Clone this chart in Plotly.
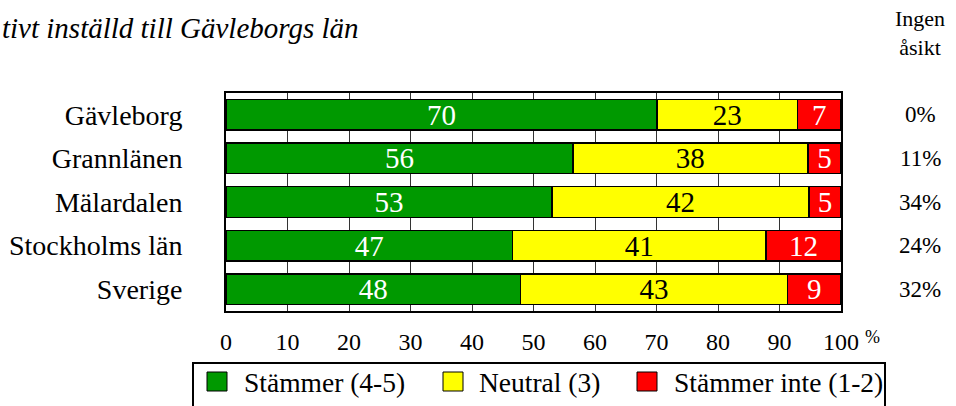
import plotly.graph_objects as go

categories = ["Gävleborg", "Grannlänen", "Mälardalen", "Stockholms län", "Sverige"]
# bar lengths and the rounded labels printed in the bars
agree = [70.1, 56.4, 53.0, 46.6, 47.9]
neutral = [22.8, 38.2, 41.8, 41.2, 43.4]
disagree = [7.1, 5.4, 5.2, 12.2, 8.7]
agree_lbl = [70, 56, 53, 47, 48]
neutral_lbl = [23, 38, 42, 41, 43]
disagree_lbl = [7, 5, 5, 12, 9]
no_opinion = ["0%", "11%", "34%", "24%", "32%"]
tick_vals = [0, 10, 20, 30, 40, 50, 60, 70, 80, 90, 100]
series_names = ["Stämmer (4-5)", "Neutral (3)", "Stämmer inte (1-2)"]
title_text = "tivt inställd till Gävleborgs län"
right_header = "Ingen<br>åsikt"

FONT = "Liberation Serif"
colors = ["#009900", "#FFFF00", "#FF0000"]
text_colors = ["white", "black", "white"]

W, H = 956, 406
L, R, T, B = 226, 841, 93, 311

def px(xpix):
    return (xpix - L) / (R - L)

def py(ypix):
    return (B - ypix) / (B - T)

fig = go.Figure()
for vals, lbls, name, col, tcol in zip([agree, neutral, disagree],
                                       [agree_lbl, neutral_lbl, disagree_lbl],
                                       series_names, colors, text_colors):
    fig.add_trace(go.Bar(
        y=categories, x=vals, name=name, orientation="h",
        marker=dict(color=col, line=dict(color="black", width=1.5)),
        text=lbls, texttemplate="%{text}", textposition="inside",
        insidetextanchor="middle", textangle=0, constraintext="none",
        textfont=dict(family=FONT, size=29, color=tcol),
        width=0.7, showlegend=False,
    ))

# right column "Ingen åsikt"
for cat, v in zip(categories, no_opinion):
    fig.add_annotation(x=px(920), xref="paper", y=cat, yref="y",
                       text=v, showarrow=False, font=dict(family=FONT, size=23, color="black"),
                       xanchor="center", yanchor="middle")

fig.add_annotation(x=px(920), y=py(33), xref="paper", yref="paper", text=right_header,
                   showarrow=False, xanchor="center", yanchor="middle",
                   font=dict(family=FONT, size=22, color="black"))

# title (cropped in the original)
fig.add_annotation(x=px(0), y=py(28), xref="paper", yref="paper", text=title_text,
                   showarrow=False, xanchor="left", yanchor="middle",
                   font=dict(family=FONT, size=29, color="black", style="italic"))

# "%" superscript after 100
fig.add_annotation(x=px(863), y=py(337), xref="paper", yref="paper", text="%",
                   showarrow=False, xanchor="left", yanchor="middle",
                   font=dict(family=FONT, size=18, color="black"))

# legend (drawn as box + swatches + labels)
shapes = [dict(type="rect", xref="paper", yref="paper",
               x0=px(193), x1=px(885), y0=py(363), y1=py(420),
               line=dict(color="black", width=2), fillcolor="rgba(0,0,0,0)")]
swatch_x = [207, 443, 637]
text_x = [242, 477, 672]
for sx, tx, col, name in zip(swatch_x, text_x, colors, series_names):
    shapes.append(dict(type="rect", xref="paper", yref="paper",
                       x0=px(sx), x1=px(sx + 20), y0=py(372), y1=py(391),
                       line=dict(color="black", width=1), fillcolor=col))
    fig.add_annotation(x=px(tx), y=py(382), xref="paper", yref="paper", text=name,
                       showarrow=False, xanchor="left", yanchor="middle",
                       font=dict(family=FONT, size=27.5, color="black"))

fig.update_layout(
    width=W, height=H,
    margin=dict(l=L, r=W - R, t=T, b=H - B, autoexpand=False),
    paper_bgcolor="white", plot_bgcolor="white",
    font=dict(family=FONT, color="black"),
    barmode="stack",
    showlegend=False,
    shapes=shapes,
    xaxis=dict(range=[0, 100], tickvals=tick_vals, showgrid=True, gridcolor="#333333", gridwidth=1,
               showline=True, linecolor="black", linewidth=2, mirror=True,
               ticks="", ticklabelstandoff=8, zeroline=False, fixedrange=True,
               tickfont=dict(family=FONT, size=24, color="black")),
    yaxis=dict(categoryorder="array", categoryarray=categories, autorange="reversed",
               showline=True, linecolor="black", linewidth=2, mirror=True,
               ticks="", ticklabelstandoff=36, fixedrange=True,
               tickfont=dict(family=FONT, size=28, color="black")),
)

fig.write_html("out.html", config={"displayModeBar": False},
               post_script="document.body.style.margin='0';document.body.style.overflow='hidden';")
